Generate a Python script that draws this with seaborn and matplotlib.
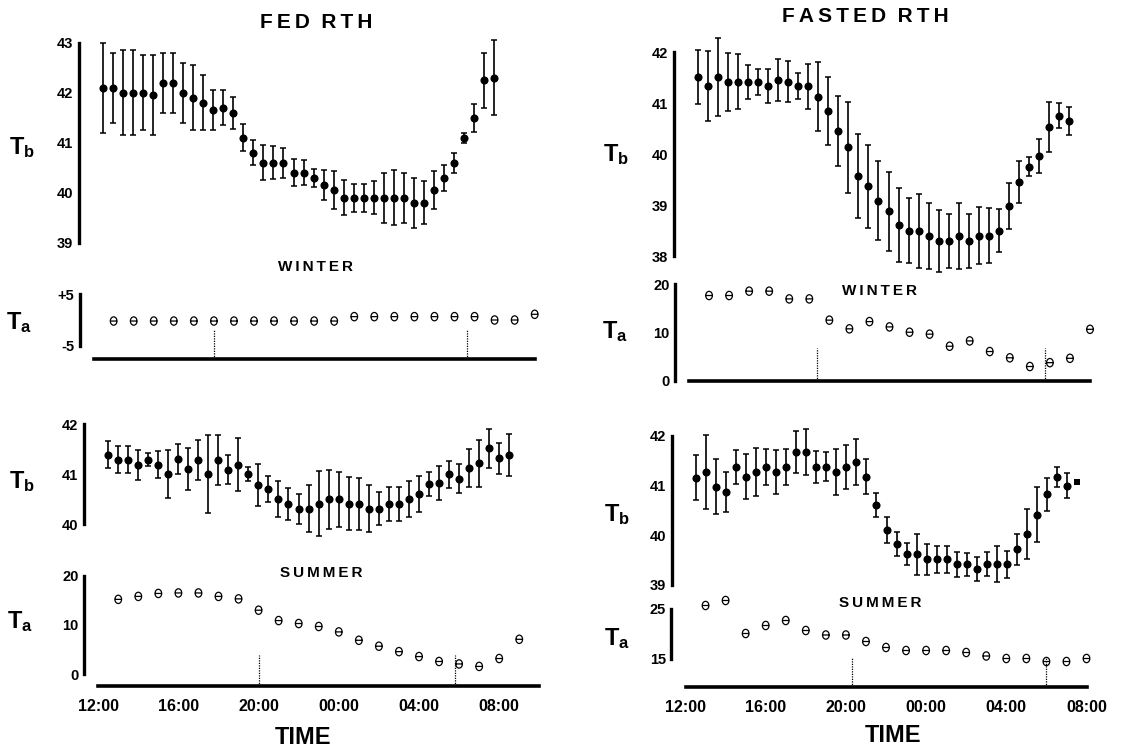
import numpy as np
import pandas as pd
import matplotlib
matplotlib.use('Agg')
import matplotlib.pyplot as plt
from matplotlib.path import Path
import seaborn as sns

sns.set_style('white')
plt.rcParams['font.family'] = ['Liberation Sans', 'DejaVu Sans']
plt.rcParams['font.weight'] = 'bold'
plt.rcParams['mathtext.fontset'] = 'custom'
plt.rcParams['mathtext.bf'] = 'Liberation Sans:bold'
plt.rcParams['mathtext.rm'] = 'Liberation Sans:bold'
for key in ['text.color', 'axes.edgecolor', 'axes.labelcolor', 'xtick.color', 'ytick.color']:
    plt.rcParams[key] = 'black'

# --- data: hours after 12:00 (noon) ---
# body temperature, sampled every half hour
fed_winter_tb_t = np.arange(0.5, 20.5, 0.5)
fed_winter_tb = [42.1, 42.1, 42.0, 42.0, 42.0, 41.95, 42.2, 42.2, 42.0, 41.9,
                 41.8, 41.65, 41.7, 41.6, 41.1, 40.8, 40.6, 40.6, 40.6, 40.4,
                 40.4, 40.3, 40.15, 40.05, 39.9, 39.9, 39.9, 39.9, 39.9, 39.9,
                 39.9, 39.8, 39.8, 40.05, 40.3, 40.6, 41.1, 41.5, 42.25, 42.3]
fed_winter_tb_err = [0.9, 0.7, 0.85, 0.85, 0.75, 0.8, 0.6, 0.6, 0.6, 0.65,
                     0.55, 0.4, 0.35, 0.32, 0.27, 0.25, 0.35, 0.33, 0.3, 0.27,
                     0.25, 0.18, 0.3, 0.38, 0.35, 0.28, 0.28, 0.33, 0.5, 0.55,
                     0.5, 0.5, 0.43, 0.38, 0.26, 0.2, 0.1, 0.28, 0.55, 0.75]

fed_summer_tb_t = np.arange(0.5, 21.0, 0.5)
fed_summer_tb = [41.39, 41.29, 41.29, 41.19, 41.29, 41.19, 41.0, 41.3, 41.1, 41.29,
                 41.0, 41.29, 41.09, 41.19, 41.0, 40.79, 40.7, 40.5, 40.41, 40.31,
                 40.31, 40.41, 40.5, 40.5, 40.41, 40.41, 40.31, 40.31, 40.41, 40.41,
                 40.5, 40.6, 40.8, 40.82, 41.0, 40.91, 41.12, 41.22, 41.52, 41.32, 41.39]
fed_summer_tb_err = [0.27, 0.27, 0.27, 0.3, 0.13, 0.27, 0.48, 0.3, 0.42, 0.4,
                     0.78, 0.5, 0.29, 0.53, 0.14, 0.42, 0.26, 0.36, 0.32, 0.3,
                     0.47, 0.65, 0.59, 0.55, 0.53, 0.52, 0.47, 0.33, 0.34, 0.34,
                     0.36, 0.36, 0.24, 0.34, 0.27, 0.29, 0.38, 0.47, 0.39, 0.31, 0.42]

fasted_winter_tb_t = np.arange(0.5, 19.5, 0.5)
fasted_winter_tb = [41.52, 41.34, 41.52, 41.42, 41.42, 41.42, 41.42, 41.34, 41.45, 41.42,
                    41.34, 41.33, 41.13, 40.85, 40.46, 40.14, 39.58, 39.37, 39.09, 38.88,
                    38.61, 38.5, 38.5, 38.4, 38.3, 38.3, 38.4, 38.3, 38.4, 38.4,
                    38.5, 38.99, 39.46, 39.76, 39.97, 40.54, 40.76, 40.65]
fasted_winter_tb_err = [0.53, 0.68, 0.76, 0.57, 0.54, 0.33, 0.25, 0.33, 0.41, 0.4,
                        0.26, 0.45, 0.68, 0.67, 0.69, 0.89, 0.82, 0.81, 0.78, 0.77,
                        0.72, 0.64, 0.73, 0.65, 0.61, 0.52, 0.64, 0.52, 0.56, 0.54,
                        0.42, 0.45, 0.41, 0.19, 0.33, 0.49, 0.24, 0.27]

fasted_summer_tb_t = np.arange(0.5, 19.5, 0.5)
fasted_summer_tb = [41.15, 41.27, 40.97, 40.87, 41.37, 41.17, 41.27, 41.37, 41.27, 41.37,
                    41.67, 41.67, 41.37, 41.37, 41.27, 41.37, 41.47, 41.17, 40.61, 40.1,
                    39.82, 39.61, 39.61, 39.51, 39.51, 39.51, 39.41, 39.41, 39.31, 39.41,
                    39.41, 39.41, 39.71, 40.02, 40.41, 40.82, 41.17, 40.99]
fasted_summer_tb_err = [0.45, 0.74, 0.55, 0.4, 0.35, 0.45, 0.49, 0.36, 0.44, 0.36,
                        0.43, 0.46, 0.33, 0.29, 0.47, 0.44, 0.46, 0.35, 0.24, 0.27,
                        0.24, 0.22, 0.41, 0.31, 0.27, 0.27, 0.25, 0.23, 0.24, 0.24,
                        0.36, 0.27, 0.31, 0.51, 0.55, 0.33, 0.2, 0.25]
fasted_summer_tb_last = (19.5, 41.07)  # single value drawn as a square

# ambient temperature, hourly
fed_winter_ta_t = np.arange(1, 23, 1)
fed_winter_ta = [-0.2, -0.2, -0.2, -0.2, -0.2, -0.2, -0.2, -0.2, -0.2, -0.2, -0.2,
                 -0.2, 0.65, 0.65, 0.65, 0.65, 0.65, 0.65, 0.65, 0.0, 0.0, 1.1]
fed_summer_ta_t = np.arange(1, 22, 1)
fed_summer_ta = [15.2, 15.8, 16.4, 16.5, 16.5, 15.8, 15.3, 13.0, 10.9, 10.3, 9.7,
                 8.6, 6.9, 5.7, 4.6, 3.6, 2.6, 2.1, 1.6, 3.2, 7.1]
fasted_winter_ta_t = np.arange(1, 21, 1)
fasted_winter_ta = [17.7, 17.7, 18.6, 18.6, 17.0, 17.0, 12.6, 10.8, 12.3, 11.2,
                    10.1, 9.7, 7.2, 8.3, 6.1, 4.8, 3.0, 3.8, 4.7, 10.7]
fasted_summer_ta_t = np.arange(1, 21, 1)
fasted_summer_ta = [25.7, 26.7, 20.1, 21.7, 22.7, 20.7, 19.8, 19.8, 18.5, 17.3,
                    16.7, 16.7, 16.7, 16.3, 15.6, 15.1, 15.1, 14.5, 14.5, 15.1]

# sunset / sunrise (hours after noon)
fed_winter_sun = [6.0, 18.6]
fed_summer_sun = [8.0, 17.8]
fasted_winter_sun = [6.4, 17.75]
fasted_summer_sun = [8.3, 18.0]

clock_labels = {0: '12:00', 4: '16:00', 8: '20:00', 12: '00:00', 16: '04:00', 20: '08:00'}

# --- layout (pixels) ---
W, H = 1125, 747
PXH = 20.05  # pixels per hour
fig = plt.figure(figsize=(W / 100, H / 100), dpi=100)


def panel(box, h0, ref, lo, hi, ticks, ticklabels):
    l, t, r, b = box
    ax = fig.add_axes([l / W, 1 - b / H, (r - l) / W, (b - t) / H])
    ax.set_xlim((l - h0) / PXH, (r - h0) / PXH)
    v, p, k = ref
    ax.set_ylim(v - (b - p) / k, v + (p - t) / k)
    ax.patch.set_alpha(0)
    for s in ['top', 'right', 'bottom']:
        ax.spines[s].set_visible(False)
    ax.spines['left'].set_position(('data', -0.7))
    ax.spines['left'].set_bounds(lo, hi)
    ax.spines['left'].set_linewidth(2.4)
    ax.set_xticks([])
    ax.set_yticks(ticks)
    ax.set_yticklabels(ticklabels)
    ax.tick_params(axis='y', direction='inout', length=4, width=1.8, pad=2, labelsize=10.5)
    return ax


def time_axis(ax, level, end, labels=False):
    sp = ax.spines['bottom']
    sp.set_visible(True)
    sp.set_position(('data', level))
    sp.set_bounds(0, end)
    sp.set_linewidth(2.6)
    ticks = list(range(0, end + 1, 2))
    ax.set_xticks(ticks)
    ax.tick_params(axis='x', direction='inout', length=5, width=3.5, pad=7)
    if labels:
        ax.set_xticklabels([clock_labels.get(h, '') for h in ticks],
                           fontsize=11.5, fontweight='bold')
    else:
        ax.set_xticklabels([])


def sun_lines(ax, times, level, top):
    ax.vlines(times, level, top, colors='black', linestyles=(0, (1, 1)), linewidth=0.9)


def tb_plot(ax, t, m, e):
    ax.errorbar(t, m, yerr=e, fmt='none', ecolor='black', elinewidth=1.2,
                capsize=2.2, capthick=1.1, clip_on=False)
    sns.scatterplot(x=t, y=m, ax=ax, color='black', s=34, linewidth=0,
                    clip_on=False, legend=False, zorder=3)


circ = Path.unit_circle()
theta = Path.make_compound_path(Path(circ.vertices * [0.8, 1.0], circ.codes),
                                Path([[-0.8, 0.0], [0.8, 0.0]]))


def ta_plot(ax, t, v):
    sns.scatterplot(x=t, y=v, ax=ax, marker=theta, s=36, fc='none', ec='black',
                    linewidth=0.9, clip_on=False, legend=False)


# FED RTH column
ax1 = panel((40, 30, 560, 250), 93, (41, 142.7, 50), 39, 43,
            [39, 40, 41, 42, 43], ['39', '40', '41', '42', '43'])
tb_plot(ax1, fed_winter_tb_t, fed_winter_tb, fed_winter_tb_err)

ax2 = panel((40, 280, 560, 375), 93.6, (0, 320, 5.17), -5, 5,
            [-5, 0, 5], ['-5', '', '+5'])
time_axis(ax2, -7.5, 22)
sun_lines(ax2, fed_winter_sun, -7.5, -1.8)
ta_plot(ax2, fed_winter_ta_t, fed_winter_ta)

ax3 = panel((40, 410, 560, 545), 98, (41, 474.3, 50), 40, 42,
            [40, 41, 42], ['40', '41', '42'])
tb_plot(ax3, fed_summer_tb_t, fed_summer_tb, fed_summer_tb_err)

ax4 = panel((40, 565, 560, 700), 98.2, (10, 625, 4.93), 0, 20,
            [0, 10, 20], ['0', '10', '20'])
time_axis(ax4, -2.37, 22, labels=True)
sun_lines(ax4, fed_summer_sun, -2.37, 3.9)
ta_plot(ax4, fed_summer_ta_t, fed_summer_ta)

# FASTED RTH column
ax5 = panel((630, 40, 1125, 275), 688, (40, 154.3, 51), 38, 42,
            [38, 39, 40, 41, 42], ['38', '39', '40', '41', '42'])
tb_plot(ax5, fasted_winter_tb_t, fasted_winter_tb, fasted_winter_tb_err)

ax6 = panel((630, 280, 1125, 395), 689, (10, 332.7, 4.83), 0, 20,
            [0, 5, 10, 15, 20], ['0', '', '10', '', '20'])
time_axis(ax6, 0, 20)
sun_lines(ax6, fasted_winter_sun, 0, 6.9)
ta_plot(ax6, fasted_winter_ta_t, fasted_winter_ta)

ax7 = panel((630, 425, 1125, 590), 686, (40, 535, 49.7), 39, 42,
            [39, 40, 41, 42], ['39', '40', '41', '42'])
tb_plot(ax7, fasted_summer_tb_t, fasted_summer_tb, fasted_summer_tb_err)
sns.scatterplot(x=[fasted_summer_tb_last[0]], y=[fasted_summer_tb_last[1]], ax=ax7,
                marker='s', color='black', s=14, linewidth=0, clip_on=False, legend=False)

ax8 = panel((630, 600, 1125, 700), 685.5, (20, 634, 5), 15, 25,
            [15, 20, 25], ['15', '', '25'])
time_axis(ax8, 9.35, 20, labels=True)
sun_lines(ax8, fasted_summer_sun, 9.35, 15.5)
ta_plot(ax8, fasted_summer_ta_t, fasted_summer_ta)


def ftext(x, y, s, size, **kw):
    fig.text(x / W, 1 - y / H, s, ha='center', va='center', fontsize=size,
             fontweight='bold', **kw)


thin = '\u2009'
ftext(316, 22, thin.join('FED') + '  ' + thin.join('RTH'), 15)
ftext(865, 17, thin.join('FASTED') + '  ' + thin.join('RTH'), 15)
ftext(315, 267, thin.join('WINTER'), 11)
ftext(880, 291, thin.join('WINTER'), 11)
ftext(321, 573, thin.join('SUMMER'), 11)
ftext(880, 603, thin.join('SUMMER'), 11)
ftext(303, 737, 'TIME', 17)
ftext(893, 736, 'TIME', 17)

tb_lab = r'$\mathbf{T_b}$'
ta_lab = r'$\mathbf{T_a}$'
for x, y, s in [(22, 148, tb_lab), (19, 323, ta_lab), (22, 482, tb_lab), (20, 622, ta_lab),
                (616, 155, tb_lab), (615, 332, ta_lab), (617, 515, tb_lab), (617, 639, ta_lab)]:
    ftext(x, y, s, 17)

fig.savefig('out.png', dpi=100)
